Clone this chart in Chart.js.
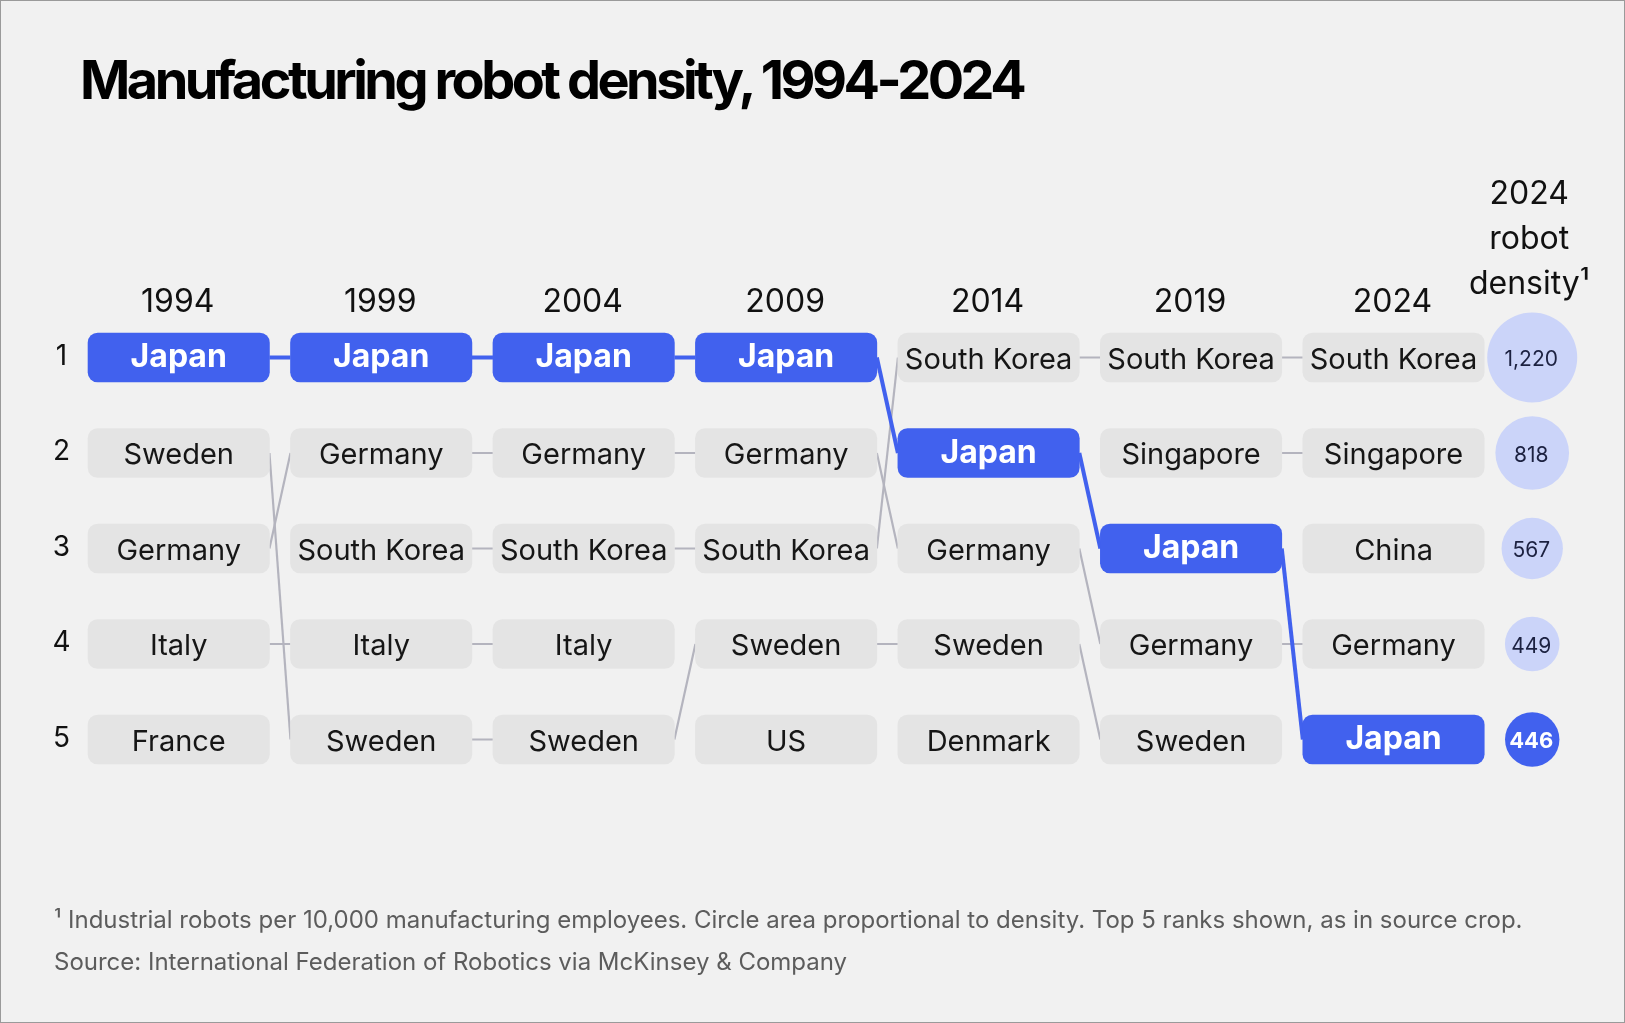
<!DOCTYPE html>
<html><head><meta charset="utf-8">
<script src="https://cdn.jsdelivr.net/npm/chart.js@4.4.1/dist/chart.umd.min.js"></script>
<style>
html,body{margin:0;padding:0;background:#f1f1f1;}
#wrap{position:relative;width:1625px;height:1023px;overflow:hidden;background:#f1f1f1;font-family:Inter,sans-serif;}
#frame{position:absolute;left:0;top:0;width:1625px;height:1023px;box-sizing:border-box;border:1px solid #9a9a9a;pointer-events:none;}
#c{position:absolute;left:0;top:0;}
#title{position:absolute;left:80px;top:52px;font-size:54px;line-height:55px;font-weight:700;letter-spacing:-3.5px;color:#000;white-space:nowrap;}
.note{position:absolute;left:54px;font-size:24px;line-height:24px;color:#5c5c5c;white-space:nowrap;}
</style></head><body>
<div id="wrap">
<canvas id="c" width="1625" height="1023"></canvas>
<div id="title">Manufacturing robot density, 1994-2024</div>
<div class="note" style="top:908px">¹ Industrial robots per 10,000 manufacturing employees. Circle area proportional to density. Top 5 ranks shown, as in source crop.</div>
<div class="note" style="top:950px">Source: International Federation of Robotics via McKinsey &amp; Company</div>
<div id="frame"></div>
</div>
<script>
// ---- data ----
const years = ['1994', '1999', '2004', '2009', '2014', '2019', '2024'];
const rankLabels = ['1', '2', '3', '4', '5'];
const rank1994 = ['Japan', 'Sweden', 'Germany', 'Italy', 'France'];
const rank1999 = ['Japan', 'Germany', 'South Korea', 'Italy', 'Sweden'];
const rank2004 = ['Japan', 'Germany', 'South Korea', 'Italy', 'Sweden'];
const rank2009 = ['Japan', 'Germany', 'South Korea', 'Sweden', 'US'];
const rank2014 = ['South Korea', 'Japan', 'Germany', 'Sweden', 'Denmark'];
const rank2019 = ['South Korea', 'Singapore', 'Japan', 'Germany', 'Sweden'];
const rank2024 = ['South Korea', 'Singapore', 'China', 'Germany', 'Japan'];
const density2024 = [1220, 818, 567, 449, 446];
const densityLabels = ['1,220', '818', '567', '449', '446'];
const densityHeader = ['2024', 'robot', 'density¹'];
const highlight = 'Japan';

// ---- styling / layout constants ----
const BLUE = '#4161ee', BOXGRAY = '#e4e4e4', LINEGRAY = '#b4b4be', LIGHT = '#cbd4f9';
const HW = 0.448;          // half box width in column units
const DENS_X = 6.685;      // column position of density circles
const MAX_R = 45;          // radius of largest circle (px)

const rankings = [rank1994, rank1999, rank2004, rank2009, rank2014, rank2019, rank2024];

const boxes = [];
rankings.forEach((col, i) => col.forEach((c, r) => boxes.push({ col: i, rank: r + 1, country: c })));

const datasets = [];
for (let i = 0; i < rankings.length - 1; i++) {
  rankings[i].forEach((c, r) => {
    const r2 = rankings[i + 1].indexOf(c);
    if (r2 < 0) return;
    const hi = c === highlight;
    datasets.push({
      type: 'line',
      data: [{ x: i + HW, y: r + 1 }, { x: i + 1 - HW, y: r2 + 1 }],
      borderColor: hi ? BLUE : LINEGRAY,
      borderWidth: hi ? 4 : 2.2,
      pointRadius: 0, pointHoverRadius: 0,
      fill: false, tension: 0,
      order: hi ? 2 : 3
    });
  });
}
datasets.push({
  type: 'bar',
  indexAxis: 'y',
  data: boxes.map(b => ({ x: [b.col - HW, b.col + HW], y: b.rank })),
  backgroundColor: boxes.map(b => b.country === highlight ? BLUE : BOXGRAY),
  borderRadius: 10,
  borderSkipped: false,
  borderWidth: 0,
  barThickness: 49,
  grouped: false,
  order: 1
});
datasets.push({
  type: 'bubble',
  data: density2024.map((d, r) => ({ x: DENS_X, y: r + 1, r: MAX_R * Math.sqrt(d / density2024[0]) })),
  backgroundColor: rank2024.map(c => c === highlight ? BLUE : LIGHT),
  borderWidth: 0,
  hoverRadius: 0,
  order: 0
});

const textPlugin = {
  id: 'texts',
  afterDatasetsDraw(chart) {
    const { ctx, scales: { x, y } } = chart;
    ctx.save();
    ctx.textBaseline = 'alphabetic';
    ctx.textAlign = 'center';
    // box labels
    boxes.forEach(b => {
      const px = x.getPixelForValue(b.col), py = y.getPixelForValue(b.rank);
      const hi = b.country === highlight;
      ctx.font = hi ? '700 32px Inter' : '400 29px Inter';
      ctx.fillStyle = hi ? '#ffffff' : '#161616';
      ctx.fillText(b.country, px, py + (hi ? 9.5 : 11));
    });
    // year headers
    const top = y.getPixelForValue(1);
    ctx.font = '400 32px Inter';
    ctx.fillStyle = '#111';
    years.forEach((yr, i) => ctx.fillText(yr, x.getPixelForValue(i) - 1, top - 46));
    // density header
    ctx.font = '400 32px Inter';
    const dx = x.getPixelForValue(DENS_X) - 3;
    densityHeader.forEach((t, k) => ctx.fillText(t, dx, top - 154 + k * 45));
    // rank labels
    ctx.font = '400 28px Inter';
    rankLabels.forEach((t, k) => ctx.fillText(t, x.getPixelForValue(-0.5) - 16, y.getPixelForValue(k + 1) + 7));
    // density labels
    densityLabels.forEach((t, k) => {
      const hi = rank2024[k] === highlight;
      ctx.font = hi ? '700 22px Inter' : '400 21px Inter';
      ctx.fillStyle = hi ? '#ffffff' : '#1c2140';
      ctx.fillText(t, x.getPixelForValue(DENS_X) - 1, y.getPixelForValue(k + 1) + 8.5);
    });
    ctx.restore();
  }
};

new Chart(document.getElementById('c'), {
  type: 'scatter',
  data: { datasets },
  options: {
    responsive: false,
    animation: false,
    events: [],
    layout: { autoPadding: false, padding: { left: 77.5, right: 29, top: 309.75, bottom: 235.75 } },
    plugins: { legend: { display: false }, tooltip: { enabled: false } },
    scales: {
      x: { type: 'linear', min: -0.5, max: 7.0, display: false, offset: false, grid: { offset: false } },
      y: { type: 'linear', min: 0.5, max: 5.5, reverse: true, display: false, offset: false, grid: { offset: false } }
    }
  },
  plugins: [textPlugin]
});
</script>
</body></html>
